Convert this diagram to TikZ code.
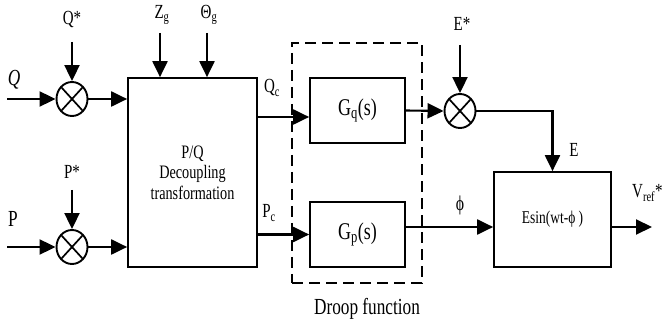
\documentclass[tikz,border=0pt]{standalone}
\usepackage{fontspec}
\setmainfont{Liberation Serif}[FakeStretch=0.75]
\usetikzlibrary{arrows.meta,shapes.geometric}
\tikzset{
  block/.style={draw, line width=1.7pt, inner sep=0pt, align=center},
  sumnode/.style={ellipse, draw, line width=1.9pt, inner sep=0pt, minimum width=31pt, minimum height=34pt,
    path picture={\draw[line width=1.7pt] (path picture bounding box.south west) -- (path picture bounding box.north east)
      (path picture bounding box.north west) -- (path picture bounding box.south east);}},
  arrow/.style={-{Triangle[length=16pt,width=15pt]}, line width=2.1pt},
  lbl/.style={inner sep=1pt, font=\fontsize{20}{22}\selectfont},
  biglbl/.style={inner sep=1pt, font=\fontsize{23}{25}\selectfont},
  droop/.style={draw, line width=2pt, dash pattern=on 11pt off 6pt, inner sep=0pt}
}
\begin{document}
\begin{tikzpicture}[x=1pt,y=-1pt]
\useasboundingbox (0,0) rectangle (662,323);

% summing junctions
\node[sumnode] (sumq) at (72,99) {};
\node[sumnode] (sump) at (72,247) {};
\node[sumnode] (sume) at (460,111) {};

% blocks
\node[block, minimum width=129pt, minimum height=189pt, font=\fontsize{19}{20.5}\selectfont] (pq) at (192.5,172.5)
  {P/Q\\Decoupling\\transformation};
\node[block, minimum width=95pt, minimum height=65pt, font=\fontsize{24}{26}\selectfont] (gq) at (357.5,110.5)
  {G\textsubscript{q}(s)};
\node[block, minimum width=95pt, minimum height=65pt, font=\fontsize{24}{26}\selectfont] (gp) at (357.5,234.5)
  {G\textsubscript{p}(s)};
\node[block, minimum width=117pt, minimum height=95pt, font=\fontsize{18}{20}\selectfont] (esin) at (552.5,219.5)
  {\raisebox{-3pt}{Esin(wt-ϕ\,)}};

\node[droop, minimum width=130pt, minimum height=240pt] (droopbox) at (357,163) {};
\node[inner sep=1pt, font=\fontsize{23}{25}\selectfont] (drooplbl) at (367,309) {Droop function};

% inputs and output
\coordinate (qin) at (7,99);
\coordinate (pin) at (7,247);
\coordinate (qsin) at (72,42);
\coordinate (psin) at (72,190);
\coordinate (zgin) at (160,33);
\coordinate (thin) at (207,33);
\coordinate (esin0) at (460,45);
\coordinate (vout) at (652,227);
\coordinate (qc) at ([yshift=-6.5pt]gq.west);
\coordinate (phi) at ([yshift=-7.5pt]esin.west);

\node[biglbl, font=\fontsize{23}{25}\selectfont\itshape] (qlbl) at (14,80) {Q};
\node[biglbl] (plbl) at (13,219) {P};
\node[lbl] (qslbl) at (72,20) {Q*};
\node[lbl] (pslbl) at (72,172) {P*};
\node[lbl] (zglbl) at (162,15) {Z\textsubscript{g}};
\node[lbl] (thlbl) at (209,15) {Θ\textsubscript{g}};
\node[lbl] (eslbl) at (462,24) {E*};
\node[lbl] (qclbl) at (272,88) {Q\textsubscript{c}};
\node[lbl] (pclbl) at (269,213) {P\textsubscript{c}};
\node[lbl, font=\fontsize{21}{23}\selectfont] (philbl) at (460,205) {ϕ};
\node[lbl] (elbl) at (574,150) {E};
\node[lbl, anchor=west] (vlbl) at (631,193) {V\textsubscript{ref}*};

\draw[arrow] (qin) -- (sumq.west);
\draw[arrow] (pin) -- (sump.west);
\draw[arrow] (qsin) -- (sumq.north);
\draw[arrow] (psin) -- (sump.north);
\draw[arrow] (sumq.east) -- (sumq.east -| pq.west);
\draw[arrow] (sump.east) -- (sump.east -| pq.west);
\draw[arrow] (zgin) -- (zgin |- pq.north);
\draw[arrow] (thin) -- (thin |- pq.north);

\draw[arrow] (qc -| pq.east) -- (qc);
\draw[arrow] (gp.west -| pq.east) -- (gp.west);
\draw[arrow] (gq.east) -- (sume.west);
\draw[arrow] (esin0) -- (sume.north);
\draw[arrow] (sume.east) -| (esin.north);
\draw[arrow] (phi -| gp.east) -- (phi);
\draw[arrow] (vout -| esin.east) -- (vout);
\end{tikzpicture}
\end{document}
